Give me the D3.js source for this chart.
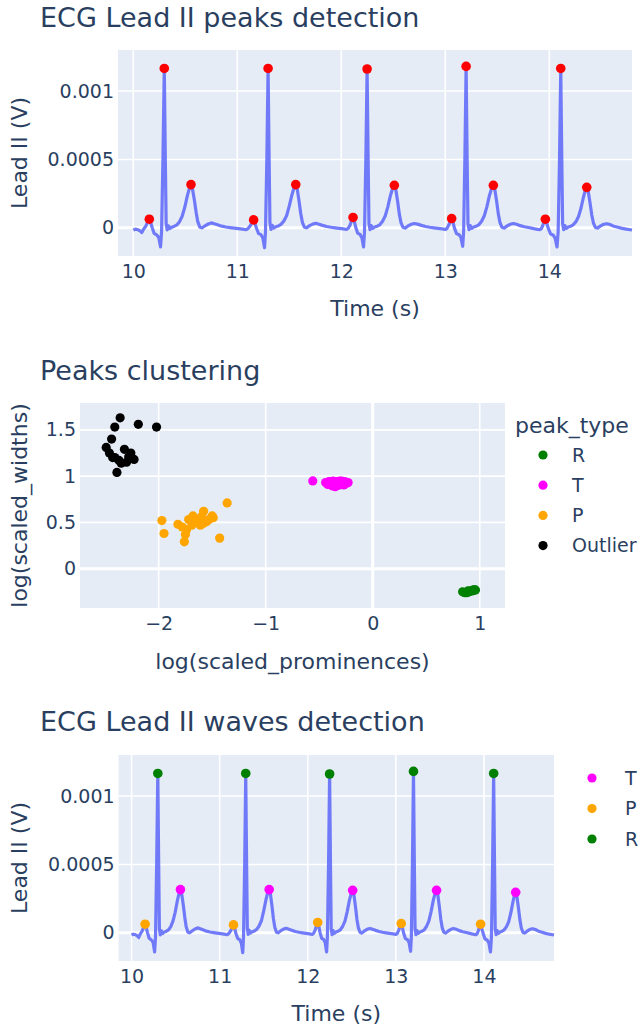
<!DOCTYPE html>
<html>
<head>
<meta charset="utf-8">
<script src="https://cdn.jsdelivr.net/npm/d3@7"></script>
<style>
  body { margin: 0; background: #fff; }
</style>
</head>
<body>
<script>
// ECG lead II trace, [time (s), volts]
const ecgTrace = [
    [10.000, -0.000017], [10.020, -0.000010], [10.045, -0.000014], [10.065, -0.000022], [10.082, -0.000034],
    [10.100, -0.000008], [10.120, 0.000012], [10.140, 0.000045], [10.154, 0.000063], [10.168, 0.000035],
    [10.182, 0.000000], [10.200, -0.000040], [10.225, -0.000052], [10.245, -0.000070], [10.262, -0.000140],
    [10.272, -0.000030], [10.285, 0.000500], [10.298, 0.001165], [10.308, 0.000500], [10.316, 0.000030],
    [10.326, -0.000015], [10.338, 0.000015], [10.352, -0.000005], [10.370, 0.000005], [10.395, 0.000012],
    [10.420, 0.000022], [10.445, 0.000045], [10.470, 0.000085], [10.495, 0.000150], [10.520, 0.000235],
    [10.540, 0.000290], [10.555, 0.000316], [10.570, 0.000280], [10.588, 0.000200], [10.605, 0.000110],
    [10.620, 0.000045], [10.640, 0.000005], [10.660, 0.000000], [10.690, 0.000015], [10.720, 0.000028],
    [10.750, 0.000036], [10.780, 0.000030], [10.810, 0.000022], [10.850, 0.000012], [10.890, 0.000006],
    [10.930, 0.000002], [10.970, -0.000002], [11.010, -0.000006], [11.050, -0.000010], [11.085, -0.000014],
    [11.105, -0.000004], [11.125, 0.000015], [11.143, 0.000042], [11.157, 0.000058], [11.171, 0.000030],
    [11.185, -0.000005], [11.205, -0.000042], [11.228, -0.000050], [11.246, -0.000075], [11.262, -0.000145],
    [11.271, -0.000030], [11.284, 0.000500], [11.296, 0.001165], [11.306, 0.000500], [11.314, 0.000035],
    [11.324, -0.000012], [11.336, 0.000018], [11.350, -0.000002], [11.370, 0.000008], [11.395, 0.000014],
    [11.420, 0.000025], [11.448, 0.000050], [11.475, 0.000090], [11.500, 0.000160], [11.525, 0.000240],
    [11.546, 0.000295], [11.562, 0.000316], [11.577, 0.000280], [11.594, 0.000195], [11.610, 0.000105],
    [11.626, 0.000040], [11.645, 0.000004], [11.665, 0.000000], [11.695, 0.000016], [11.725, 0.000027],
    [11.755, 0.000033], [11.785, 0.000026], [11.820, 0.000018], [11.860, 0.000010], [11.900, 0.000004],
    [11.940, 0.000000], [11.980, -0.000004], [12.020, -0.000008], [12.050, -0.000012], [12.065, -0.000005],
    [12.083, 0.000018], [12.100, 0.000055], [12.113, 0.000076], [12.126, 0.000045], [12.140, 0.000000],
    [12.158, -0.000040], [12.180, -0.000048], [12.198, -0.000072], [12.214, -0.000140], [12.223, -0.000030],
    [12.236, 0.000500], [12.248, 0.001161], [12.258, 0.000500], [12.266, 0.000030], [12.276, -0.000014],
    [12.288, 0.000016], [12.302, -0.000004], [12.320, 0.000006], [12.345, 0.000012], [12.370, 0.000022],
    [12.397, 0.000048], [12.423, 0.000088], [12.448, 0.000155], [12.472, 0.000235], [12.494, 0.000290],
    [12.510, 0.000311], [12.525, 0.000275], [12.542, 0.000190], [12.558, 0.000100], [12.574, 0.000038],
    [12.593, 0.000004], [12.613, -0.000002], [12.643, 0.000014], [12.673, 0.000026], [12.703, 0.000032],
    [12.733, 0.000027], [12.770, 0.000018], [12.810, 0.000010], [12.850, 0.000004], [12.890, 0.000000],
    [12.930, -0.000004], [12.970, -0.000008], [13.000, -0.000012], [13.015, -0.000006], [13.033, 0.000020],
    [13.049, 0.000050], [13.061, 0.000068], [13.074, 0.000040], [13.088, -0.000002], [13.108, -0.000042],
    [13.132, -0.000050], [13.150, -0.000070], [13.167, -0.000135], [13.176, -0.000030], [13.188, 0.000500],
    [13.200, 0.001180], [13.210, 0.000500], [13.218, 0.000030], [13.228, -0.000014], [13.240, 0.000016],
    [13.254, -0.000004], [13.272, 0.000006], [13.297, 0.000012], [13.322, 0.000022], [13.349, 0.000048],
    [13.375, 0.000088], [13.400, 0.000155], [13.424, 0.000235], [13.446, 0.000290], [13.462, 0.000311],
    [13.477, 0.000275], [13.494, 0.000190], [13.510, 0.000100], [13.526, 0.000038], [13.545, 0.000004],
    [13.565, -0.000002], [13.595, 0.000014], [13.625, 0.000026], [13.655, 0.000032], [13.685, 0.000026],
    [13.720, 0.000016], [13.760, 0.000008], [13.800, 0.000002], [13.840, -0.000004], [13.875, -0.000010],
    [13.905, -0.000014], [13.922, -0.000008], [13.936, 0.000015], [13.950, 0.000045], [13.962, 0.000063],
    [13.975, 0.000035], [13.990, -0.000004], [14.012, -0.000045], [14.036, -0.000052], [14.056, -0.000075],
    [14.074, -0.000140], [14.085, -0.000030], [14.098, 0.000500], [14.110, 0.001165], [14.120, 0.000500],
    [14.128, 0.000030], [14.138, -0.000014], [14.150, 0.000016], [14.164, -0.000004], [14.182, 0.000006],
    [14.206, 0.000012], [14.230, 0.000022], [14.256, 0.000045], [14.281, 0.000082], [14.305, 0.000145],
    [14.327, 0.000220], [14.346, 0.000275], [14.360, 0.000296], [14.375, 0.000262], [14.392, 0.000180],
    [14.408, 0.000095], [14.424, 0.000035], [14.443, 0.000003], [14.463, -0.000002], [14.493, 0.000014],
    [14.523, 0.000026], [14.553, 0.000030], [14.583, 0.000024], [14.620, 0.000012], [14.660, 0.000004],
    [14.700, -0.000004], [14.740, -0.000010], [14.795, -0.000016]
]

// detected peaks
const pTimes = [10.154, 11.157, 12.113, 13.061, 13.962]
const pValues = [0.000063, 0.000058, 0.000076, 0.000068, 0.000063]
const rTimes = [10.298, 11.296, 12.248, 13.200, 14.110]
const rValues = [0.001165, 0.001165, 0.001161, 0.001180, 0.001165]
const tTimes = [10.555, 11.562, 12.510, 13.462, 14.360]
const tValues = [0.000316, 0.000316, 0.000311, 0.000311, 0.000296]

// clustering: log(scaled_prominences), log(scaled_widths)
const rProm = [0.84, 0.86, 0.88, 0.90, 0.91, 0.93, 0.94, 0.95, 0.96, 0.89]
const rWid = [-0.25, -0.26, -0.26, -0.25, -0.24, -0.24, -0.23, -0.23, -0.23, -0.24]
const tProm = [-0.56, -0.44, -0.42, -0.40, -0.38, -0.36, -0.34, -0.32, -0.30, -0.28, -0.26, -0.24, -0.41, -0.37, -0.33, -0.29, -0.35, -0.31, -0.39, -0.27, -0.23]
const tWid = [0.948, 0.93, 0.91, 0.935, 0.895, 0.925, 0.94, 0.90, 0.935, 0.915, 0.94, 0.925, 0.94, 0.945, 0.915, 0.945, 0.885, 0.945, 0.915, 0.905, 0.93]
const pProm = [-1.36, -1.97, -1.95, -1.82, -1.76, -1.43, -1.58, -1.68, -1.72, -1.50, -1.55, -1.61, -1.69, -1.74, -1.75, -1.64, -1.58, -1.53, -1.49, -1.78, -1.60, -1.66]
const pWid = [0.71, 0.52, 0.38, 0.48, 0.29, 0.33, 0.62, 0.57, 0.53, 0.57, 0.51, 0.47, 0.47, 0.42, 0.37, 0.53, 0.49, 0.53, 0.55, 0.45, 0.56, 0.50]
const outProm = [-2.36, -2.19, -2.02, -2.41, -2.44, -2.49, -2.46, -2.32, -2.43, -2.28, -2.23, -2.35, -2.30, -2.39, -2.41, -2.37, -2.26]
const outWid = [1.63, 1.56, 1.53, 1.53, 1.40, 1.31, 1.25, 1.29, 1.20, 1.21, 1.18, 1.14, 1.15, 1.04, 1.20, 1.17, 1.25]

const ecgXTicks = [10, 11, 12, 13, 14]
const ecgYTicks = [0, 0.0005, 0.001]
const clusterXTicks = [-2, -1, 0, 1]
const clusterYTicks = [0, 0.5, 1, 1.5]

const font = "'DejaVu Sans', Verdana, sans-serif"
const ink = '#2a3f5f'
const bg = '#E5ECF6'

const svg = d3.select('body').append('svg')
    .attr('width', 640)
    .attr('height', 1029)
    .style('font-family', font)

const fmtTick = d => String(d).replace('-', '\u2212')

// background, grid and tick labels for one panel
const drawFrame = (box, x, y, xTicks, yTicks) => {
    const g = svg.append('g')
    g.append('rect')
        .attr('x', box.left).attr('y', box.top)
        .attr('width', box.right - box.left).attr('height', box.bottom - box.top)
        .attr('fill', bg)
    g.selectAll('.vgrid').data(xTicks).enter().append('line')
        .attr('x1', d => x(d)).attr('x2', d => x(d))
        .attr('y1', box.top).attr('y2', box.bottom)
        .attr('stroke', '#fff').attr('stroke-width', d => d === 0 ? 3 : 1.6)
    g.selectAll('.hgrid').data(yTicks).enter().append('line')
        .attr('y1', d => y(d)).attr('y2', d => y(d))
        .attr('x1', box.left).attr('x2', box.right)
        .attr('stroke', '#fff').attr('stroke-width', d => d === 0 ? 3 : 1.6)

    const xAxis = g.append('g')
        .attr('transform', `translate(0, ${box.bottom})`)
        .call(d3.axisBottom(x).tickValues(xTicks).tickSize(0).tickPadding(9).tickFormat(fmtTick))
    const yAxis = g.append('g')
        .attr('transform', `translate(${box.left}, 0)`)
        .call(d3.axisLeft(y).tickValues(yTicks).tickSize(0).tickPadding(4).tickFormat(fmtTick))
    for (const a of [xAxis, yAxis]) {
        a.select('.domain').remove()
        a.selectAll('text')
            .attr('fill', ink)
            .style('font-size', '19px')
            .style('font-family', font)
    }
    return g
}

const addText = (txt, x, y, size, anchor = 'start', rotate = false) => {
    const t = svg.append('text')
        .attr('x', x).attr('y', y)
        .attr('fill', ink)
        .attr('text-anchor', anchor)
        .style('font-size', size + 'px')
        .text(txt)
    if (rotate) {
        t.attr('dy', '0.36em').attr('transform', `rotate(-90, ${x}, ${y})`)
    }
    return t
}

const drawEcg = (box, title, titleY, peakSets) => {
    const x = d3.scaleLinear().domain([9.853, 14.795]).range([box.left, box.right])
    const y = d3.scaleLinear().domain([-0.000206, 0.0013]).range([box.bottom, box.top])

    drawFrame(box, x, y, ecgXTicks, ecgYTicks)

    const line = d3.line()
        .x(d => x(d[0]))
        .y(d => y(d[1]))

    svg.append('path')
        .datum(ecgTrace)
        .attr('d', line)
        .attr('fill', 'none')
        .attr('stroke', '#636efa')
        .attr('stroke-width', 3.2)
        .attr('stroke-linejoin', 'round')
        .attr('opacity', 0.9)

    peakSets.forEach(s => {
        svg.append('g').selectAll('circle')
            .data(d3.zip(s.times, s.values))
            .enter()
            .append('circle')
            .attr('cx', d => x(d[0]))
            .attr('cy', d => y(d[1]))
            .attr('r', 4.8)
            .attr('fill', s.color)
    })

    addText(title, 40, titleY, 27)
    addText('Time (s)', (box.left + box.right) / 2, box.bottom + 60, 22, 'middle')
    addText('Lead II (V)', 19, (box.top + box.bottom) / 2, 22, 'middle', true)
}

// top panel: every peak in red
const topBox = { left: 118, right: 632, top: 50, bottom: 256 }
drawEcg(topBox, 'ECG Lead II peaks detection', 27, [
    { times: pTimes.concat(rTimes, tTimes), values: pValues.concat(rValues, tValues), color: 'red' }
])

// middle panel: clustering scatter
const midBox = { left: 80, right: 505, top: 403, bottom: 608 }
const cx = d3.scaleLinear().domain([-2.735, 1.236]).range([midBox.left, midBox.right])
const cy = d3.scaleLinear().domain([-0.425, 1.79]).range([midBox.bottom, midBox.top])
drawFrame(midBox, cx, cy, clusterXTicks, clusterYTicks)

const clusters = [
    { name: 'R', color: 'green', prom: rProm, wid: rWid },
    { name: 'T', color: 'magenta', prom: tProm, wid: tWid },
    { name: 'P', color: 'orange', prom: pProm, wid: pWid },
    { name: 'Outlier', color: 'black', prom: outProm, wid: outWid }
]

clusters.forEach((c, i) => {
    svg.append('g').selectAll('circle')
        .data(d3.zip(c.prom, c.wid))
        .enter()
        .append('circle')
        .attr('cx', d => cx(d[0]))
        .attr('cy', d => cy(d[1]))
        .attr('r', 4.6)
        .attr('fill', c.color)

    svg.append('circle')
        .attr('cx', 543).attr('cy', 455 + i * 30.2)
        .attr('r', 4.6).attr('fill', c.color)
    addText(c.name, 572, 455 + i * 30.2, 19).attr('dy', '0.36em')
})

addText('peak_type', 515, 433, 22)
addText('Peaks clustering', 40, 380, 27)
addText('log(scaled_prominences)', (midBox.left + midBox.right) / 2, 669, 22, 'middle')
addText('log(scaled_widths)', 19, (midBox.top + midBox.bottom) / 2, 22, 'middle', true)

// bottom panel: peaks coloured by wave type
const botBox = { left: 118.6, right: 554, top: 755, bottom: 961 }
drawEcg(botBox, 'ECG Lead II waves detection', 731, [
    { times: tTimes, values: tValues, color: 'magenta' },
    { times: pTimes, values: pValues, color: 'orange' },
    { times: rTimes, values: rValues, color: 'green' }
])

const waveLegend = [['T', 'magenta'], ['P', 'orange'], ['R', 'green']]
waveLegend.forEach(([name, color], i) => {
    svg.append('circle')
        .attr('cx', 592).attr('cy', 778 + i * 30.5)
        .attr('r', 4.6).attr('fill', color)
    addText(name, 625, 778 + i * 30.5, 19).attr('dy', '0.36em')
})
</script>
</body>
</html>
